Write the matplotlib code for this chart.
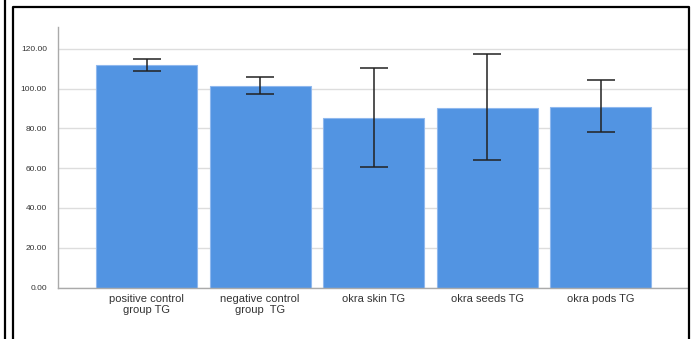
import numpy as np
import matplotlib.pyplot as plt
from matplotlib.lines import Line2D

plt.rcParams['font.family'] = ['Liberation Sans', 'DejaVu Sans']

groups = ['positive control\ngroup TG', 'negative control\ngroup  TG',
          'okra skin TG', 'okra seeds TG', 'okra pods TG']
means = [111.7, 101.1, 85.1, 90.4, 91.0]
err_low = [108.8, 97.1, 60.4, 64.1, 78.3]
err_high = [114.7, 105.8, 110.2, 117.4, 104.5]

fig = plt.figure(figsize=(6.92, 3.39), dpi=100)
ax = fig.add_axes([58 / 692, 1 - 287.5 / 339, 630 / 692, 260.5 / 339])

x = np.arange(len(groups))
means_a = np.array(means)
yerr = [means_a - np.array(err_low), np.array(err_high) - means_a]
ax.bar(x, means, width=0.89, color='#5294e2', edgecolor='#8fb8ee', linewidth=0.8, zorder=2)
ax.errorbar(x, means, yerr=yerr, fmt='none', ecolor='#222222', elinewidth=1.1,
            capsize=10, capthick=1.1, zorder=3)

ax.set_xlim(-0.78, 4.77)
ax.set_ylim(0, 131)
ax.set_yticks(np.arange(0, 121, 20))
ax.set_yticklabels([f'{v:.2f}' for v in range(0, 121, 20)], fontsize=6, color='#333333')
ax.set_xticks(x)
ax.set_xticklabels(groups, fontsize=8, color='#333333', linespacing=1.05)
ax.tick_params(axis='both', length=0)
ax.tick_params(axis='y', pad=8)
ax.tick_params(axis='x', pad=5)
ax.yaxis.grid(True, color='#dddddd', linewidth=1.0, zorder=0)
ax.set_axisbelow(True)
for s in ['top', 'right']:
    ax.spines[s].set_visible(False)
for s in ['left', 'bottom']:
    ax.spines[s].set_color('#aaaaaa')
    ax.spines[s].set_linewidth(1.0)

# page borders around the figure
fig.add_artist(Line2D([5 / 692, 5 / 692], [0, 1], color='black', linewidth=1.6))
fig.add_artist(Line2D([13 / 692, 13 / 692, 689 / 692, 689 / 692], [0, 1 - 7 / 339, 1 - 7 / 339, 0],
                      color='black', linewidth=1.6))

fig.savefig('out.png', dpi=100)
